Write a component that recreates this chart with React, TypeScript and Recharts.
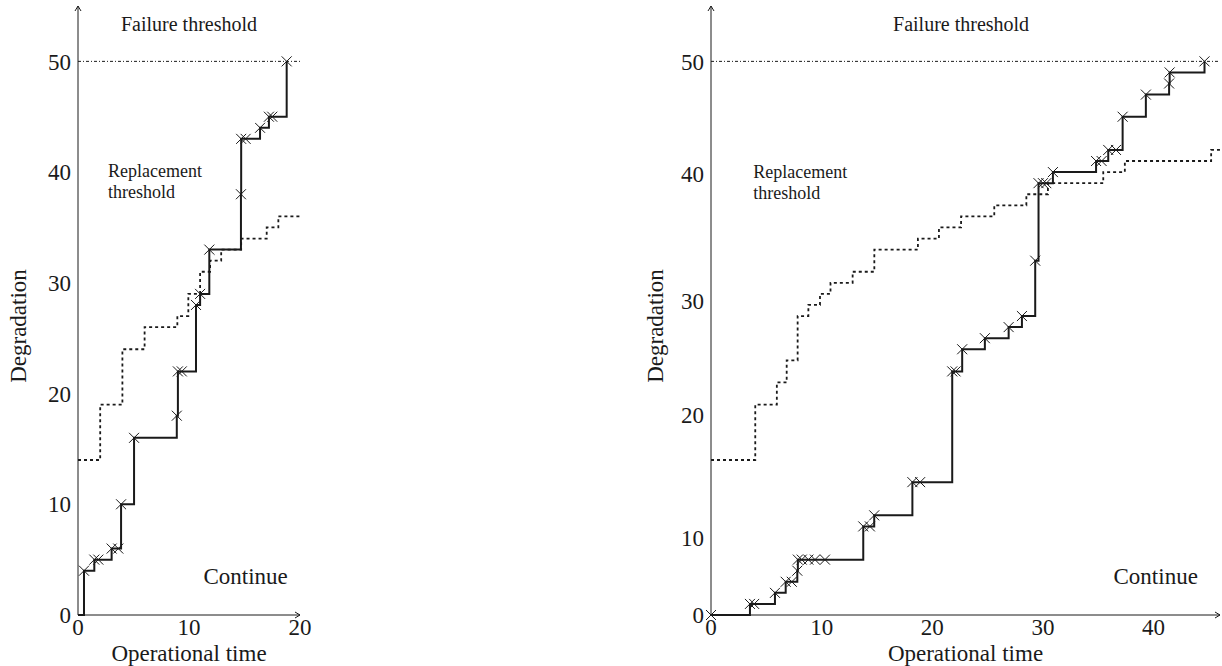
import React from 'react';
import { LineChart, Line, XAxis, YAxis, ReferenceLine, ReferenceDot } from 'recharts';

type Obs = { t: number; d: number };

// left panel: degradation path (observations) and replacement threshold
const leftDegradation: Obs[] = [
  { t: 0, d: 0 }, { t: 0.54, d: 4 }, { t: 1.47, d: 5 }, { t: 1.83, d: 5 },
  { t: 3.03, d: 6 }, { t: 3.63, d: 6 }, { t: 3.88, d: 10 }, { t: 5.05, d: 16 },
  { t: 8.9, d: 18 }, { t: 9.0, d: 22 }, { t: 9.35, d: 22 }, { t: 10.63, d: 28 },
  { t: 11.0, d: 29 }, { t: 11.83, d: 33 }, { t: 14.68, d: 38 }, { t: 14.7, d: 43 },
  { t: 15.1, d: 43 }, { t: 16.4, d: 44 }, { t: 17.2, d: 45 }, { t: 17.5, d: 45 },
  { t: 18.8, d: 50 },
];
const leftReplacement: Obs[] = [
  { t: 0, d: 14 }, { t: 2, d: 19 }, { t: 4, d: 24 }, { t: 6, d: 26 },
  { t: 8.95, d: 27 }, { t: 9.94, d: 29 }, { t: 11.0, d: 31 }, { t: 11.9, d: 32 },
  { t: 12.9, d: 33 }, { t: 14.7, d: 34 }, { t: 17.0, d: 35 }, { t: 18.05, d: 36 },
  { t: 20, d: 36 },
];

// right panel
const rightDegradation: Obs[] = [
  { t: 0, d: 0 }, { t: 3.52, d: 1 }, { t: 3.9, d: 1 }, { t: 5.78, d: 2 },
  { t: 6.75, d: 3 }, { t: 7.3, d: 3 }, { t: 7.8, d: 4 }, { t: 7.85, d: 5 },
  { t: 8.2, d: 5 }, { t: 8.8, d: 5 }, { t: 9.4, d: 5 }, { t: 10.3, d: 5 },
  { t: 13.76, d: 8 }, { t: 14.36, d: 8 }, { t: 14.75, d: 9 }, { t: 18.2, d: 12 },
  { t: 18.9, d: 12 }, { t: 21.8, d: 22 }, { t: 22.1, d: 22 }, { t: 22.7, d: 24 },
  { t: 24.75, d: 25 }, { t: 26.9, d: 26 }, { t: 28.1, d: 27 }, { t: 29.3, d: 32 },
  { t: 29.6, d: 39 }, { t: 30.0, d: 39 }, { t: 30.3, d: 39 }, { t: 30.9, d: 40 },
  { t: 34.8, d: 41 }, { t: 35.3, d: 41 }, { t: 35.9, d: 42 }, { t: 36.6, d: 42 },
  { t: 37.2, d: 45 }, { t: 39.3, d: 47 }, { t: 41.4, d: 48 }, { t: 41.45, d: 49 },
  { t: 44.6, d: 50 },
];
const rightReplacement: Obs[] = [
  { t: 0, d: 14 }, { t: 4, d: 19 }, { t: 5.95, d: 21 }, { t: 6.84, d: 23 },
  { t: 7.83, d: 27 }, { t: 8.8, d: 28 }, { t: 9.85, d: 29 }, { t: 10.8, d: 30 },
  { t: 12.8, d: 31 }, { t: 14.76, d: 33 }, { t: 18.7, d: 34 }, { t: 20.6, d: 35 },
  { t: 22.6, d: 36 }, { t: 25.6, d: 37 }, { t: 28.5, d: 38 }, { t: 30.45, d: 39 },
  { t: 35.45, d: 40 }, { t: 37.4, d: 41 }, { t: 45.2, d: 42 }, { t: 46, d: 42 },
];

const failureLevel = 50;
const leftXTicks = [0, 10, 20];
const leftYTicks = [0, 10, 20, 30, 40, 50];
const leftYLabels = ['0', '10', '20', '30', '40', '50'];
const rightXTicks = [0, 10, 20, 30, 40];
// the right panel's y labels sit at uneven heights in the original
const rightYTicks = [0, 7.0, 18.1, 28.4, 39.8, 50];
const rightYLabels = ['0', '10', '20', '30', '40', '50'];

const FONT = "'Liberation Serif', 'DejaVu Serif', serif";
const INK = '#1a1a1a';

const cross = (skipFirst: boolean) => (props: any) => {
  const { cx, cy, index } = props;
  if (skipFirst && index === 0) return <g key={`c-${index}`} />;
  const s = 5;
  return (
    <path
      key={`c-${index}`}
      d={`M${cx - s},${cy - s}L${cx + s},${cy + s}M${cx - s},${cy + s}L${cx + s},${cy - s}`}
      stroke={INK}
      strokeWidth={1}
      fill="none"
    />
  );
};

function note(key: string, x: number, y: number, lines: string[], size: number, anchor: string, rotate = false) {
  return (
    <ReferenceDot
      key={key}
      x={x}
      y={y}
      ifOverflow="visible"
      shape={(p: any) => (
        <text
          x={p.cx}
          y={p.cy}
          fill={INK}
          fontSize={size}
          fontFamily={FONT}
          textAnchor={anchor}
          dominantBaseline={rotate ? 'central' : undefined}
          transform={rotate ? `rotate(-90 ${p.cx} ${p.cy})` : undefined}
        >
          {lines.map((l, i) => (
            <tspan key={i} x={p.cx} dy={i === 0 ? 0 : 21}>{l}</tspan>
          ))}
        </text>
      )}
    />
  );
}

interface PanelProps {
  degradation: Obs[];
  replacement: Obs[];
  width: number;
  yAxisWidth: number;
  plotWidth: number;
  xMax: number;
  xTicks: number[];
  yTicks: number[];
  yLabels: string[];
  skipFirst: boolean;
  notes: { failX: number; repX: number; repY: number; contX: number; degX: number };
}

function Panel({ degradation, replacement, width, yAxisWidth, plotWidth, xMax, xTicks, yTicks, yLabels, skipFirst, notes }: PanelProps) {
  const tickStyle = { fill: INK, fontSize: 23, fontFamily: FONT };
  return (
    <LineChart
      width={width}
      height={666}
      margin={{ top: 6, right: width - yAxisWidth - plotWidth, bottom: 0, left: 0 }}
    >
      <XAxis
        dataKey="t"
        type="number"
        domain={[0, xMax]}
        ticks={xTicks}
        interval={0}
        height={51}
        tickSize={0}
        tickMargin={4}
        tick={tickStyle}
        axisLine={{ stroke: INK, strokeWidth: 1 }}
        label={{ value: 'Operational time', position: 'insideBottom', offset: 5, fill: INK, fontSize: 23, fontFamily: FONT }}
      />
      <YAxis
        type="number"
        domain={[0, 55]}
        ticks={yTicks}
        interval={0}
        width={yAxisWidth}
        tickSize={0}
        tickMargin={7}
        tick={tickStyle}
        tickFormatter={(v: number) => yLabels[yTicks.indexOf(v)]}
        axisLine={{ stroke: INK, strokeWidth: 1 }}
      />
      <ReferenceLine y={failureLevel} stroke={INK} strokeWidth={1} strokeDasharray="3 2 1 2" />
      <Line
        data={replacement}
        dataKey="d"
        type="stepAfter"
        stroke={INK}
        strokeWidth={1.8}
        strokeDasharray="3 3"
        dot={false}
        activeDot={false}
        isAnimationActive={false}
      />
      <Line
        data={degradation}
        dataKey="d"
        type="stepAfter"
        stroke={INK}
        strokeWidth={2}
        dot={cross(skipFirst)}
        activeDot={false}
        isAnimationActive={false}
      />
      <ReferenceDot
        x={0}
        y={55}
        ifOverflow="visible"
        shape={(p: any) => (
          <path d={`M${p.cx - 3},${p.cy + 5}L${p.cx},${p.cy}L${p.cx + 3},${p.cy + 5}`} stroke={INK} fill="none" strokeWidth={1} />
        )}
      />
      <ReferenceDot
        x={xMax}
        y={0}
        ifOverflow="visible"
        shape={(p: any) => (
          <path d={`M${p.cx - 5},${p.cy - 3}L${p.cx},${p.cy}L${p.cx - 5},${p.cy + 3}`} stroke={INK} fill="none" strokeWidth={1} />
        )}
      />
      {note('fail', notes.failX, 52.75, ['Failure threshold'], 20, 'middle')}
      {note('rep', notes.repX, notes.repY, ['Replacement', 'threshold'], 18, 'start')}
      {note('cont', notes.contX, 2.8, ['Continue'], 23, 'end')}
      {note('deg', notes.degX, 26.1, ['Degradation'], 23, 'middle', true)}
    </LineChart>
  );
}

export default function App() {
  return (
    <div style={{ position: 'absolute', left: 0, top: 0, width: 1222, height: 666, background: '#fff' }}>
      <div style={{ position: 'absolute', left: 0, top: 0 }}>
        <Panel
          degradation={leftDegradation}
          replacement={leftReplacement}
          width={330}
          yAxisWidth={78}
          plotWidth={222}
          xMax={20}
          xTicks={leftXTicks}
          yTicks={leftYTicks}
          yLabels={leftYLabels}
          skipFirst={true}
          notes={{ failX: 10.0, repX: 2.7, repY: 39.57, contX: 18.9, degX: -5.4 }}
        />
      </div>
      <div style={{ position: 'absolute', left: 630, top: 0 }}>
        <Panel
          degradation={rightDegradation}
          replacement={rightReplacement}
          width={592}
          yAxisWidth={81}
          plotWidth={509}
          xMax={46}
          xTicks={rightXTicks}
          yTicks={rightYTicks}
          yLabels={rightYLabels}
          skipFirst={false}
          notes={{ failX: 22.6, repX: 3.82, repY: 39.45, contX: 44.0, degX: -5.06 }}
        />
      </div>
    </div>
  );
}
